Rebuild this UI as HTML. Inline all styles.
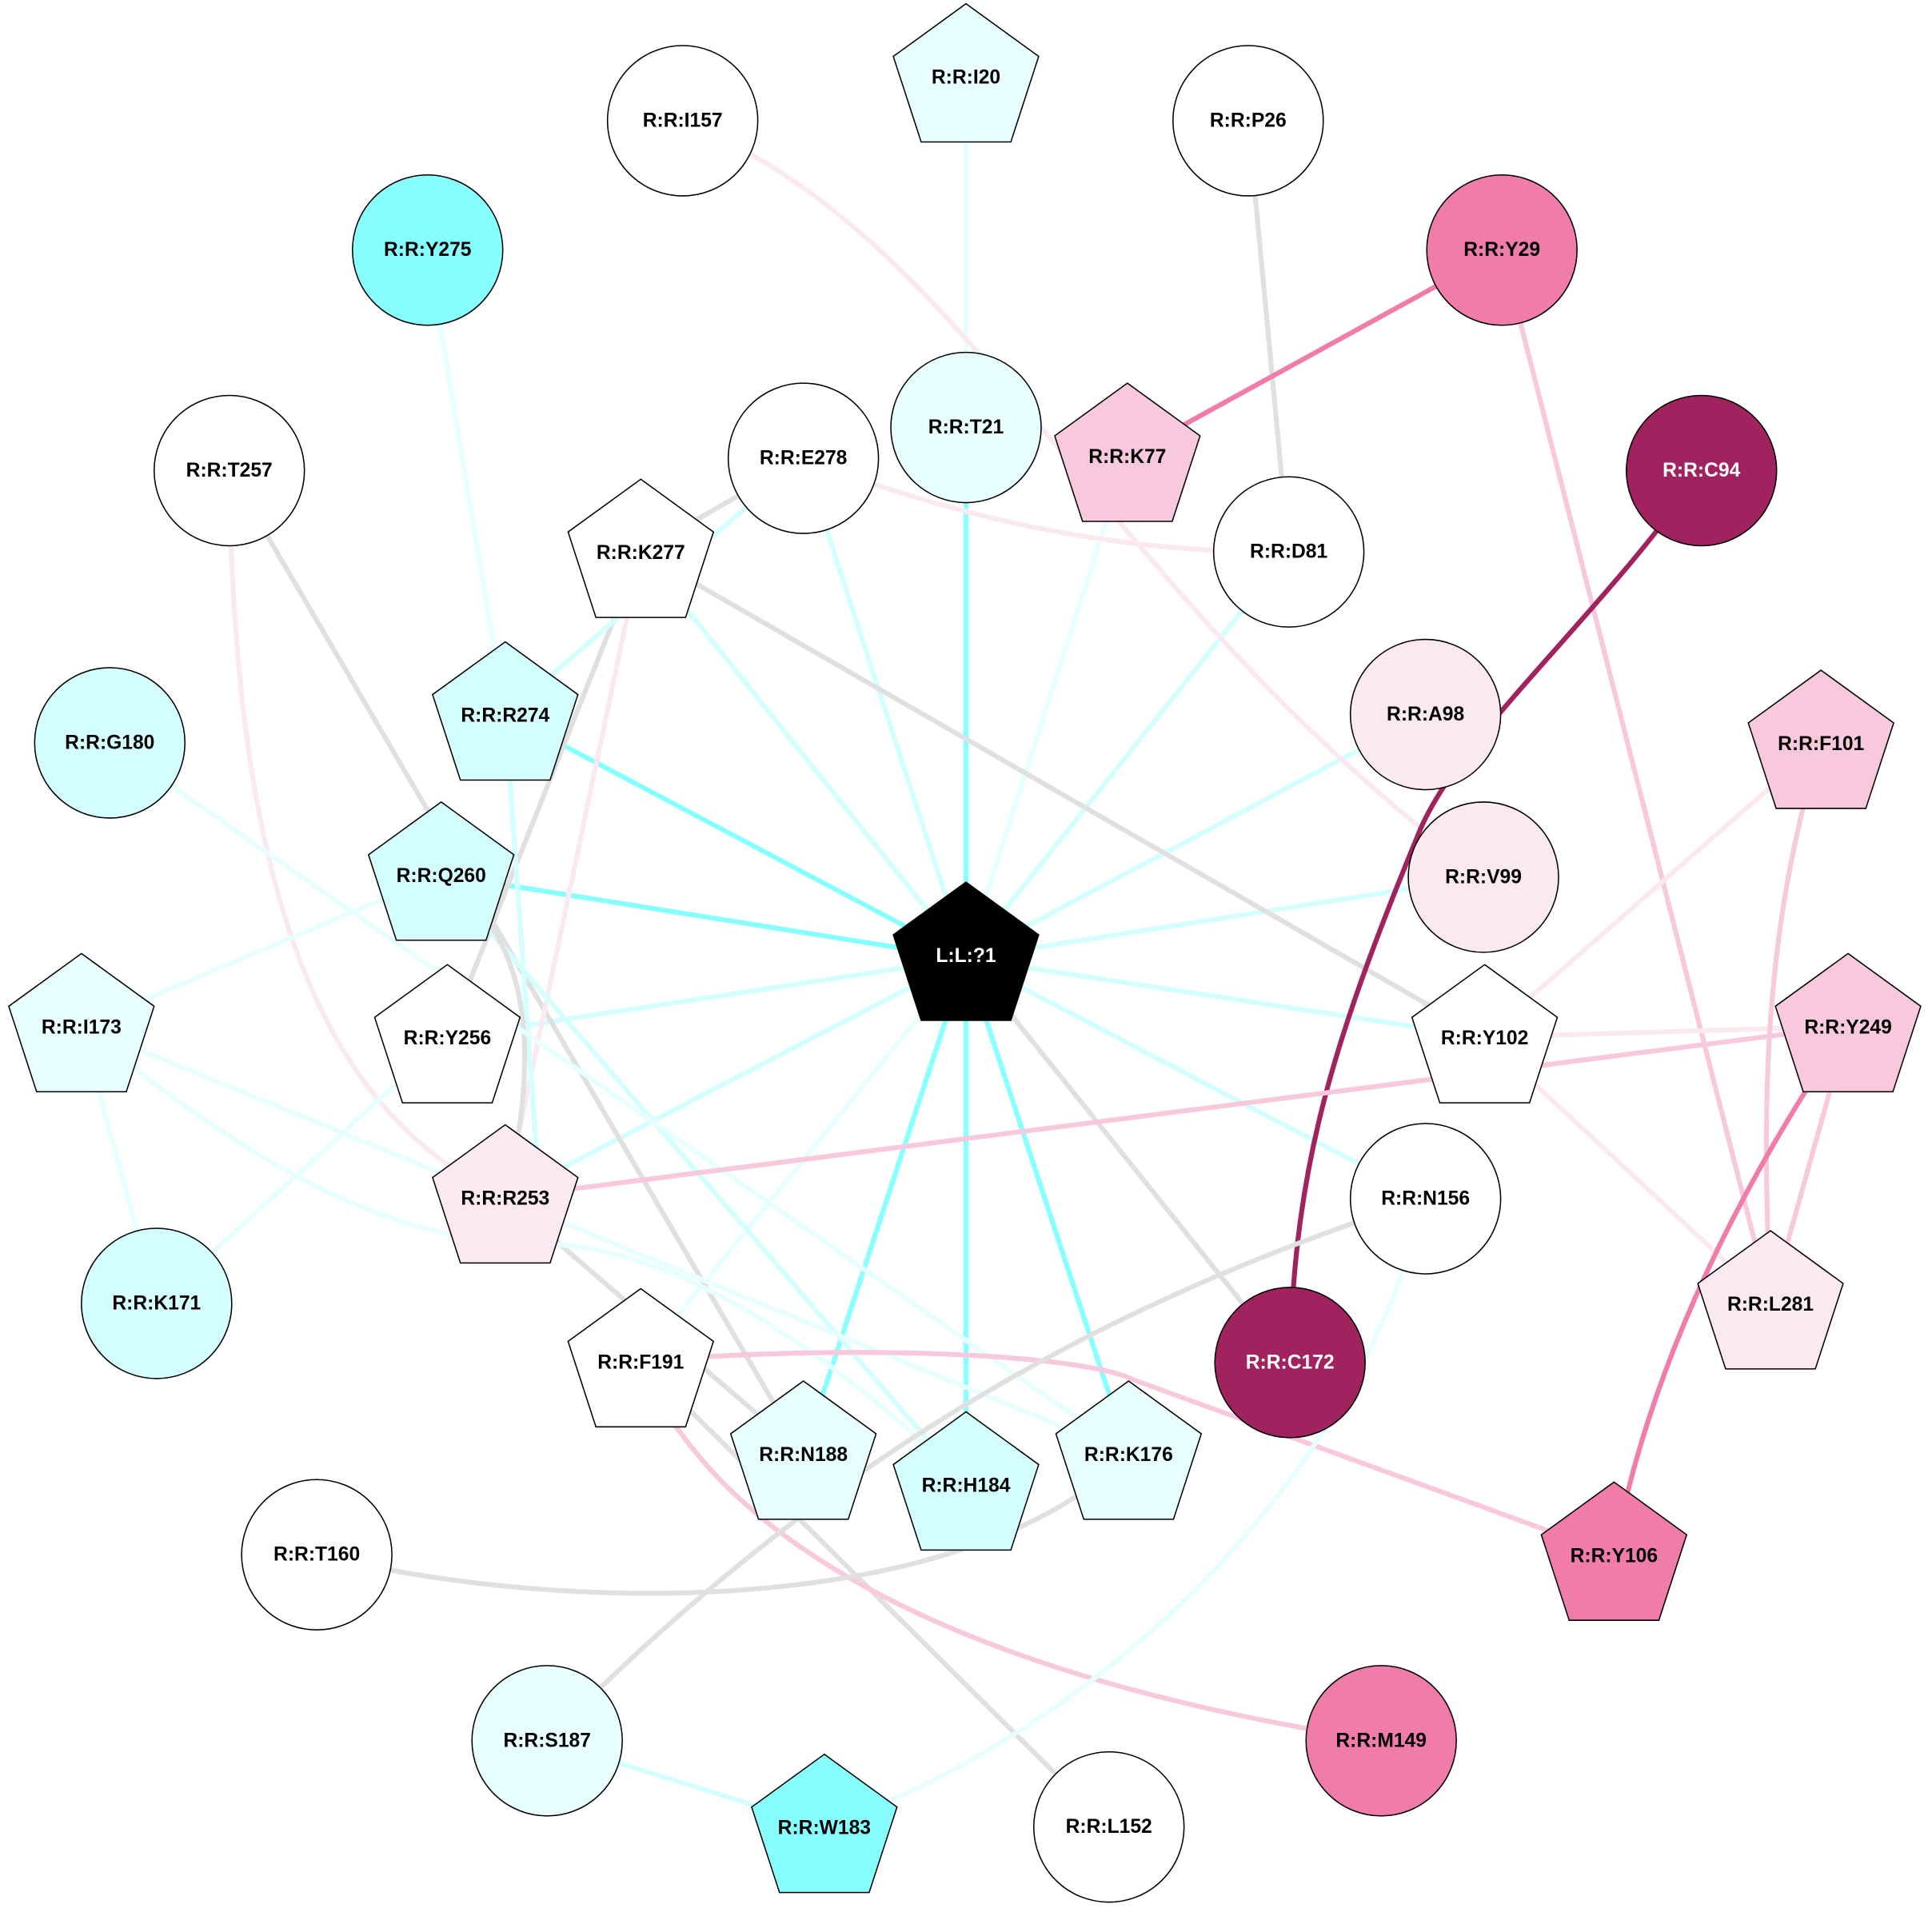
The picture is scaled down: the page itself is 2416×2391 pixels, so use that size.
<!DOCTYPE html>
<html><head><meta charset="utf-8"><style>
html,body{margin:0;padding:0;background:#fff;}
svg{display:block;}
text{font-family:"Liberation Sans",Arial,sans-serif;font-weight:bold;font-size:16px;text-anchor:middle;dominant-baseline:central;}
</style></head><body>
<svg width="2416" height="2391" viewBox="0 0 1568 1552" xmlns="http://www.w3.org/2000/svg">
<rect width="1568" height="1552" fill="#fff"/>
<g fill="none" stroke-width="4" stroke-linecap="round">
<!-- center edges -->
<line x1="784" y1="778" x2="784" y2="347" stroke="#88ffff"/>
<line x1="784" y1="778" x2="410" y2="580" stroke="#88ffff"/>
<line x1="784" y1="778" x2="358" y2="710" stroke="#88ffff"/>
<line x1="784" y1="778" x2="652" y2="1180" stroke="#88ffff"/>
<line x1="784" y1="778" x2="784" y2="1205" stroke="#88ffff"/>
<line x1="784" y1="778" x2="916" y2="1180" stroke="#88ffff"/>
<line x1="784" y1="778" x2="520" y2="448" stroke="#d4ffff"/>
<line x1="784" y1="778" x2="652" y2="372" stroke="#d4ffff"/>
<line x1="784" y1="778" x2="915" y2="370" stroke="#e8ffff"/>
<line x1="784" y1="778" x2="1046" y2="448" stroke="#d4ffff"/>
<line x1="784" y1="778" x2="1157" y2="580" stroke="#d4ffff"/>
<line x1="784" y1="778" x2="1204" y2="712" stroke="#d4ffff"/>
<line x1="784" y1="778" x2="1205" y2="842" stroke="#d4ffff"/>
<line x1="784" y1="778" x2="1157" y2="973" stroke="#d4ffff"/>
<line x1="784" y1="778" x2="1047" y2="1106" stroke="#e0e0e0"/>
<line x1="784" y1="778" x2="520" y2="1105" stroke="#e8ffff"/>
<line x1="784" y1="778" x2="410" y2="972" stroke="#d4ffff"/>
<line x1="784" y1="778" x2="363" y2="842" stroke="#d4ffff"/>
<!-- others -->
<line x1="784" y1="65" x2="784" y2="347" stroke="#e8ffff"/>
<path d="M554,98 C800,200 880,470 1204,712" stroke="#fbe9f1"/>
<line x1="1013" y1="98" x2="1046" y2="448" stroke="#e0e0e0"/>
<line x1="1219" y1="203" x2="915" y2="370" stroke="#f07caa"/>
<line x1="1219" y1="203" x2="1437" y2="1058" stroke="#f8c8dc"/>
<line x1="347" y1="203" x2="410" y2="580" stroke="#e8ffff"/>
<line x1="652" y1="372" x2="520" y2="448" stroke="#e0e0e0"/>
<path d="M652,372 Q850,450 1046,448" stroke="#fbe9f1"/>
<line x1="186" y1="382" x2="652" y2="1180" stroke="#e0e0e0"/>
<path d="M186,382 C190,700 250,900 410,972" stroke="#fbe9f1"/>
<line x1="520" y1="448" x2="1205" y2="842" stroke="#e0e0e0"/>
<line x1="520" y1="448" x2="363" y2="842" stroke="#e0e0e0"/>
<line x1="520" y1="448" x2="410" y2="972" stroke="#fbe9f1"/>
<line x1="652" y1="372" x2="410" y2="580" stroke="#d4ffff"/>
<line x1="410" y1="580" x2="440" y2="1000" stroke="#d4ffff"/>
<line x1="358" y1="710" x2="784" y2="1205" stroke="#d4ffff"/>
<line x1="358" y1="710" x2="66" y2="833" stroke="#e8ffff"/>
<path d="M358,710 C430,760 440,850 410,972" stroke="#e0e0e0"/>
<line x1="410" y1="972" x2="652" y2="1180" stroke="#e0e0e0"/>
<line x1="520" y1="1105" x2="900" y2="1483" stroke="#e0e0e0"/>
<line x1="89" y1="603" x2="916" y2="1180" stroke="#e8ffff"/>
<line x1="66" y1="833" x2="916" y2="1180" stroke="#e8ffff"/>
<line x1="66" y1="833" x2="127" y2="1058" stroke="#e8ffff"/>
<path d="M66,833 C220,960 330,1010 440,1010 C560,1010 700,1120 784,1205" stroke="#e8ffff"/>
<line x1="363" y1="842" x2="127" y2="1058" stroke="#e8ffff"/>
<line x1="1205" y1="842" x2="1478" y2="603" stroke="#fbe9f1"/>
<line x1="1205" y1="842" x2="1500" y2="833" stroke="#fbe9f1"/>
<line x1="1205" y1="842" x2="1437" y2="1058" stroke="#fbe9f1"/>
<path d="M1381,382 C1300,500 1180,600 1150,680 C1080,850 1050,950 1047,1106" stroke="#a0235f"/>
<path d="M1478,603 C1430,760 1430,900 1437,1058" stroke="#f8c8dc"/>
<line x1="1500" y1="833" x2="1437" y2="1058" stroke="#f8c8dc"/>
<line x1="1500" y1="833" x2="410" y2="972" stroke="#f8c8dc"/>
<path d="M1500,833 C1420,950 1340,1100 1310,1262" stroke="#f07caa"/>
<path d="M520,1105 C700,1090 880,1100 920,1120 L1310,1262" stroke="#f8c8dc"/>
<path d="M520,1105 C600,1300 900,1380 1121,1413" stroke="#f8c8dc"/>
<path d="M1157,973 C950,1040 700,1150 444,1413" stroke="#e0e0e0"/>
<path d="M1157,973 C1100,1200 900,1400 669,1483" stroke="#e8ffff"/>
<path d="M257,1262 C500,1320 800,1300 916,1180" stroke="#e0e0e0"/>
<line x1="444" y1="1413" x2="669" y2="1483" stroke="#d4ffff"/>
</g>
<g stroke="#000" stroke-width="1">
<!-- circles -->
<circle cx="554" cy="98" r="61" fill="#fff"/>
<circle cx="1013" cy="98" r="61" fill="#fff"/>
<circle cx="347" cy="203" r="61" fill="#88ffff"/>
<circle cx="1219" cy="203" r="61" fill="#f07caa"/>
<circle cx="784" cy="347" r="61" fill="#e8ffff"/>
<circle cx="652" cy="372" r="61" fill="#fff"/>
<circle cx="186" cy="382" r="61" fill="#fff"/>
<circle cx="1381" cy="382" r="61" fill="#a0235f"/>
<circle cx="1046" cy="448" r="61" fill="#fff"/>
<circle cx="1157" cy="580" r="61" fill="#fbe9f1"/>
<circle cx="89" cy="603" r="61" fill="#d4ffff"/>
<circle cx="1204" cy="712" r="61" fill="#fbe9f1"/>
<circle cx="1157" cy="973" r="61" fill="#fff"/>
<circle cx="127" cy="1058" r="61" fill="#d4ffff"/>
<circle cx="1047" cy="1106" r="61" fill="#a0235f"/>
<circle cx="257" cy="1262" r="61" fill="#fff"/>
<circle cx="444" cy="1413" r="61" fill="#e8ffff"/>
<circle cx="1121" cy="1413" r="61" fill="#f07caa"/>
<circle cx="900" cy="1483" r="61" fill="#fff"/>
</g>
<g stroke="#000" stroke-width="1" id="pents"></g>
<g id="labels"></g>
<script>
var P=[["L:L:?1",784,778,"#000","#fff"],["R:R:I20",784,65,"#e8ffff"],["R:R:K77",915,373,"#f8c8dc"],["R:R:K277",520,451,"#fff"],["R:R:R274",410,583,"#d4ffff"],["R:R:F101",1478,606,"#f8c8dc"],["R:R:Q260",358,713,"#d4ffff"],["R:R:I173",66,836,"#e8ffff"],["R:R:Y256",363,845,"#fff"],["R:R:Y102",1205,845,"#fff"],["R:R:Y249",1500,836,"#f8c8dc"],["R:R:R253",410,975,"#fbe9f1"],["R:R:L281",1437,1061,"#fbe9f1"],["R:R:F191",520,1108,"#fff"],["R:R:N188",652,1183,"#e8ffff"],["R:R:H184",784,1208,"#d4ffff"],["R:R:K176",916,1183,"#e8ffff"],["R:R:Y106",1310,1265,"#f07caa"],["R:R:W183",669,1486,"#88ffff"]];
var ns="http://www.w3.org/2000/svg",g=document.getElementById("pents"),L=document.getElementById("labels");
P.forEach(function(p){var r=62,pts=[];for(var i=0;i<5;i++){var a=-Math.PI/2+i*2*Math.PI/5;pts.push((p[1]+r*Math.cos(a)).toFixed(1)+","+(p[2]+r*Math.sin(a)).toFixed(1));}
var e=document.createElementNS(ns,"polygon");e.setAttribute("points",pts.join(" "));e.setAttribute("fill",p[3]);g.appendChild(e);
var t=document.createElementNS(ns,"text");t.setAttribute("x",p[1]);t.setAttribute("y",p[2]-2);if(p[4])t.setAttribute("fill",p[4]);t.textContent=p[0];L.appendChild(t);});
var C=[["R:R:I157",554,98],["R:R:P26",1013,98],["R:R:Y275",347,203],["R:R:Y29",1219,203],["R:R:T21",784,347],["R:R:E278",652,372],["R:R:T257",186,382],["R:R:C94",1381,382,"#fff"],["R:R:D81",1046,448],["R:R:A98",1157,580],["R:R:G180",89,603],["R:R:V99",1204,712],["R:R:N156",1157,973],["R:R:K171",127,1058],["R:R:C172",1047,1106,"#fff"],["R:R:T160",257,1262],["R:R:S187",444,1413],["R:R:M149",1121,1413],["R:R:L152",900,1483]];
C.forEach(function(p){var t=document.createElementNS(ns,"text");t.setAttribute("x",p[1]);t.setAttribute("y",p[2]);if(p[3])t.setAttribute("fill",p[3]);t.textContent=p[0];L.appendChild(t);});
</script>
</svg>
</body></html>
